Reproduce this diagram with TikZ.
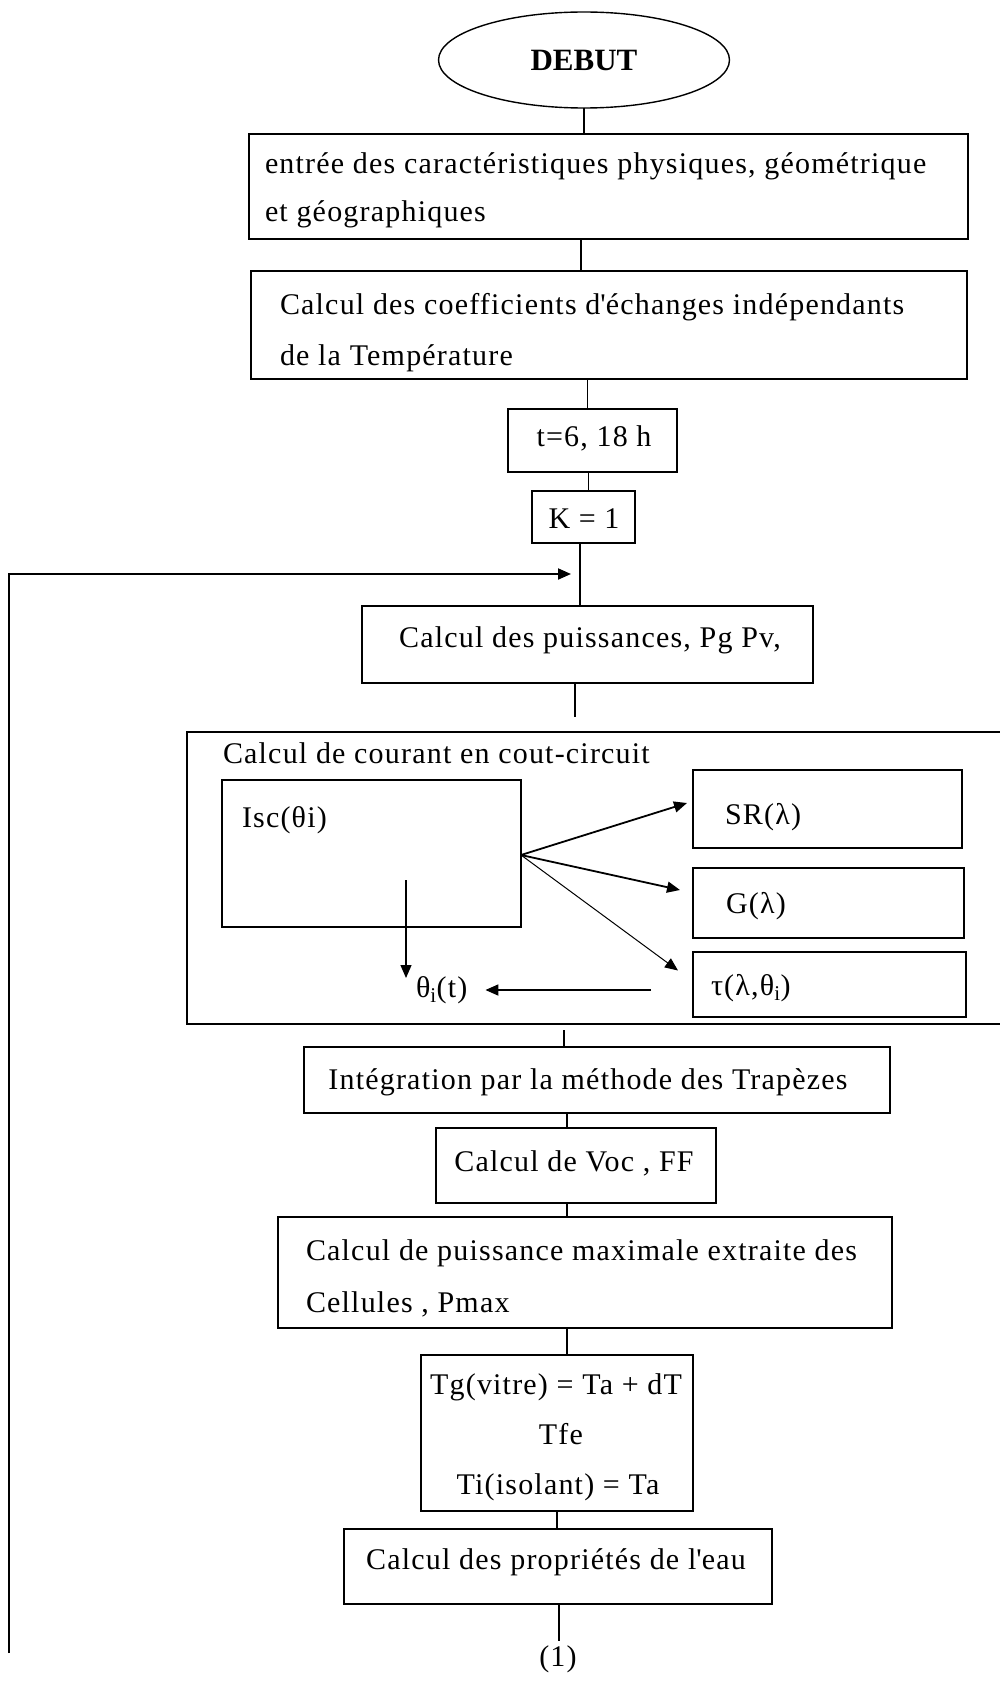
\documentclass[tikz,border=0pt]{standalone}
\usepackage{fontspec}
\setmainfont{Liberation Serif}[LetterSpace=4]
\newfontfamily\headfont{Liberation Serif}
\usetikzlibrary{shapes.geometric,arrows.meta,calc,fit}

\begin{document}
\begin{tikzpicture}[x=1pt,y=-1pt,
  every node/.style={inner sep=0pt, outer sep=0pt},
  txt/.style={font=\fontsize{30}{49}\selectfont, anchor=mid west},
  ctxt/.style={font=\fontsize{30}{49}\selectfont, anchor=mid},
  frame/.style={draw, line width=1.8pt},
  link/.style={line width=1.3pt},
  tip/.style={-{Triangle[length=13pt,width=11pt]}},
]
\clip (0,0) rectangle (1000,1683);
\fill[white] (0,0) rectangle (1000,1683);

% start
\node[draw, ellipse, line width=1.4pt, minimum width=291, minimum height=96,
      font=\headfont\bfseries\fontsize{31}{31}\selectfont] (start) at (584,60) {DEBUT};

% input data
\node[frame, fit={(249,134) (968,239)}] (b1) {};
\node[txt] (b1a) at (265,171) {entrée des caractéristiques physiques, géométrique};
\node[txt] (b1b) at (265,219) {et géographiques};

% exchange coefficients
\node[frame, fit={(251,271) (967,379)}] (b2) {};
\node[txt] (b2a) at (280,312) {Calcul des coefficients d\textquotesingle échanges indépendants};
\node[txt] (b2b) at (280,363) {de la Température};

% time range and counter
\node[frame, fit={(508,409) (677,472)}] (tb) {};
\node[ctxt] (tbt) at (594,444) {t=6, 18 h};
\node[frame, fit={(532,491) (635,543)}] (kb) {};
\node[ctxt] (kbt) at (584,526) {K = 1};

% powers
\node[frame, fit={(362,606) (813,683)}] (pg) {};
\node[ctxt] (pgt) at (590,645) {Calcul des puissances, Pg Pv,};

% short-circuit current block
\node[frame, fit={(187,732) (1030,1024)}] (cc) {};
\node[txt] (cct) at (223,761) {Calcul de courant en cout-circuit};
\node[frame, fit={(222,780) (521,927)}] (isc) {};
\node[txt] (isct) at (242,825) {Isc(θi)};
\node[frame, fit={(693,770) (962,848)}] (sr) {};
\node[txt] (srt) at (725,822) {SR(λ)};
\node[frame, fit={(693,868) (964,938)}] (gl) {};
\node[txt] (glt) at (726,911) {G(λ)};
\node[frame, fit={(693,952) (966,1017)}] (tau) {};
\node[txt] (taut) at (711,993) {τ(λ,θ\textsubscript{i})};
\node[txt] (theta) at (416,995) {θ\textsubscript{i}(t)};

% integration and cell outputs
\node[frame, fit={(304,1047) (890,1113)}] (integ) {};
\node[ctxt] (integt) at (588,1087) {Intégration par la méthode des Trapèzes};
\node[frame, fit={(436,1128) (716,1203)}] (voc) {};
\node[ctxt] (voct) at (574,1169) {Calcul de Voc , FF};
\node[frame, fit={(278,1217) (892,1328)}] (pmax) {};
\node[txt] (pmaxa) at (306,1258) {Calcul de puissance maximale extraite des};
\node[txt] (pmaxb) at (306,1310) {Cellules , Pmax};

% temperatures
\node[frame, fit={(421,1355) (693,1511)}] (tg) {};
\node[ctxt] (tga) at (556,1392) {Tg(vitre) = Ta + dT};
\node[ctxt] (tgb) at (561,1442) {Tfe};
\node[ctxt] (tgc) at (558,1492) {Ti(isolant) = Ta};

% water properties
\node[frame, fit={(344,1529) (772,1604)}] (eau) {};
\node[ctxt] (eaut) at (556,1567) {Calcul des propriétés de l\textquotesingle eau};
\node[ctxt] (one) at (558,1664) {(1)};

% column positions of the vertical links
\coordinate (xB) at (581,0);
\coordinate (xC) at (580,0);
\coordinate (xD) at (575,0);
\coordinate (xE) at (564,0);
\coordinate (xF) at (567,0);
\coordinate (xG) at (557,0);

% main column links
\draw[link] (start.south) -- (start.south |- b1.north);
\draw[link] (b1.south -| xB) -- (b2.north -| xB);
\draw[link] ($(b2.south -| tb.north)+(-5,0)$) -- ($(tb.north)+(-5,0)$);
\draw[link] ($(kb.north -| tb.south)+(-4,0)$) -- ($(tb.south)+(-4,0)$);
\draw[link] (kb.south -| xC) -- (pg.north -| xC);
\coordinate (pgend) at (575,717);
\draw[link] (pg.south -| xD) -- (pgend);
\coordinate (ccout) at (564,1030);
\draw[link] (ccout) -- (integ.north -| xE);
\draw[link] (integ.south -| xF) -- (voc.north -| xF);
\draw[link] (voc.south -| xF) -- (pmax.north -| xF);
\draw[link] (pmax.south -| xF) -- (tg.north -| xF);
\draw[link] (tg.south -| xG) -- (eau.north -| xG);
\coordinate (eauend) at (559,1641);
\draw[link] (eau.south -| eauend) -- (eauend);

% loop back to the power calculation
\coordinate (loopbot) at (9,1653);
\coordinate (loopcorner) at (9,574);
\coordinate (loopend) at (571,574);
\draw[line width=2pt, tip] (loopbot) -- (loopcorner) -- (loopend);

% links inside the short-circuit block
\coordinate (iscout) at (521,855);
\draw[line width=1.8pt, tip] (iscout) -- ($(sr.west)+(-6,-6)$);
\draw[line width=1.8pt, tip] (iscout) -- ($(gl.west)+(-13,-13)$);
\draw[line width=1pt, tip] (iscout) -- ($(tau.west)+(-15,-14)$);
\coordinate (vstart) at (406,880);
\coordinate (vend) at (406,978);
\draw[line width=1.2pt, tip] (vstart) -- (vend);
\coordinate (hstart) at (651,990);
\coordinate (hend) at ($(theta.east)+(18,0)$);
\draw[line width=1.8pt, tip] (hstart) -- (hstart -| hend);
\end{tikzpicture}
\end{document}
